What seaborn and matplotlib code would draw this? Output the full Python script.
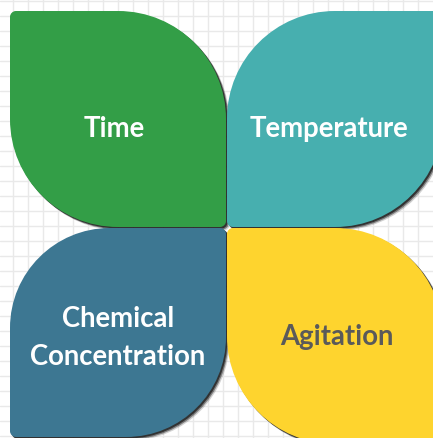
import numpy as np
import matplotlib
matplotlib.use("Agg")
import matplotlib.pyplot as plt
import seaborn as sns
from matplotlib.path import Path
from matplotlib.patches import PathPatch

# the four factors, one per leaf
labels = ["Time", "Temperature", "Chemical\nConcentration", "Agitation"]
leaf_colors = ["#339e47", "#47afaf", "#3d7792", "#fed42e"]
text_colors = ["white", "white", "white", "#5a5a5a"]

sns.set_style("whitegrid", {"grid.color": "#e9e9e9", "axes.edgecolor": "white"})
plt.rcParams["font.family"] = ["Lato", "DejaVu Sans"]

K = 0.5523


def leaf_path(x0, y0, x1, y1, radii):
    # radii: top-left, top-right, bottom-right, bottom-left (y grows downward)
    tl, tr, br, bl = radii
    verts = [(x0 + tl, y0), (x1 - tr, y0),
             (x1 - tr + K * tr, y0), (x1, y0 + tr - K * tr), (x1, y0 + tr),
             (x1, y1 - br),
             (x1, y1 - br + K * br), (x1 - br + K * br, y1), (x1 - br, y1),
             (x0 + bl, y1),
             (x0 + bl - K * bl, y1), (x0, y1 - bl + K * bl), (x0, y1 - bl),
             (x0, y0 + tl),
             (x0, y0 + tl - K * tl), (x0 + tl - K * tl, y0), (x0 + tl, y0),
             (x0 + tl, y0)]
    codes = [Path.MOVETO, Path.LINETO,
             Path.CURVE4, Path.CURVE4, Path.CURVE4,
             Path.LINETO,
             Path.CURVE4, Path.CURVE4, Path.CURVE4,
             Path.LINETO,
             Path.CURVE4, Path.CURVE4, Path.CURVE4,
             Path.LINETO,
             Path.CURVE4, Path.CURVE4, Path.CURVE4,
             Path.CLOSEPOLY]
    return Path(verts, codes)


fig = plt.figure(figsize=(4.33, 4.39), dpi=100)
ax = fig.add_axes([0, 0, 1, 1])
ax.set_xlim(0, 433)
ax.set_ylim(439, 0)
ax.set_xticks(np.arange(13, 433, 15))
ax.set_yticks(np.arange(2, 439, 15))
ax.tick_params(length=0, labelbottom=False, labelleft=False)
ax.grid(True, linewidth=1)
for s in ax.spines.values():
    s.set_visible(False)

big, small = 108, 6
boxes = [(10, 12, 226, 228, (small, big, small, big)),
         (227, 12, 443, 228, (big, small, big, small)),
         (10, 229, 226, 438, (100, small, 100, small)),
         (227, 229, 443, 445, (small, big, small, big))]
text_pos = [(114, 129), (329, 129), (118, 338), (337, 337)]

for (x0, y0, x1, y1, radii), lab, col, tcol, (tx, ty) in zip(
        boxes, labels, leaf_colors, text_colors, text_pos):
    # drop shadow towards bottom-right
    for off, a in [(3.5, 0.2), (2.5, 0.45), (1.5, 0.75)]:
        sh = leaf_path(x0 + off, y0 + off, x1 + off, y1 + off, radii)
        ax.add_patch(PathPatch(sh, facecolor="#1a1a1a", edgecolor="none", alpha=a))
    ax.add_patch(PathPatch(leaf_path(x0, y0, x1, y1, radii),
                           facecolor=col, edgecolor="none"))
    ax.text(tx, ty, lab, color=tcol, fontsize=19.8, fontweight="bold",
            ha="center", va="center", linespacing=1.6)

fig.savefig("out.png", dpi=100)
